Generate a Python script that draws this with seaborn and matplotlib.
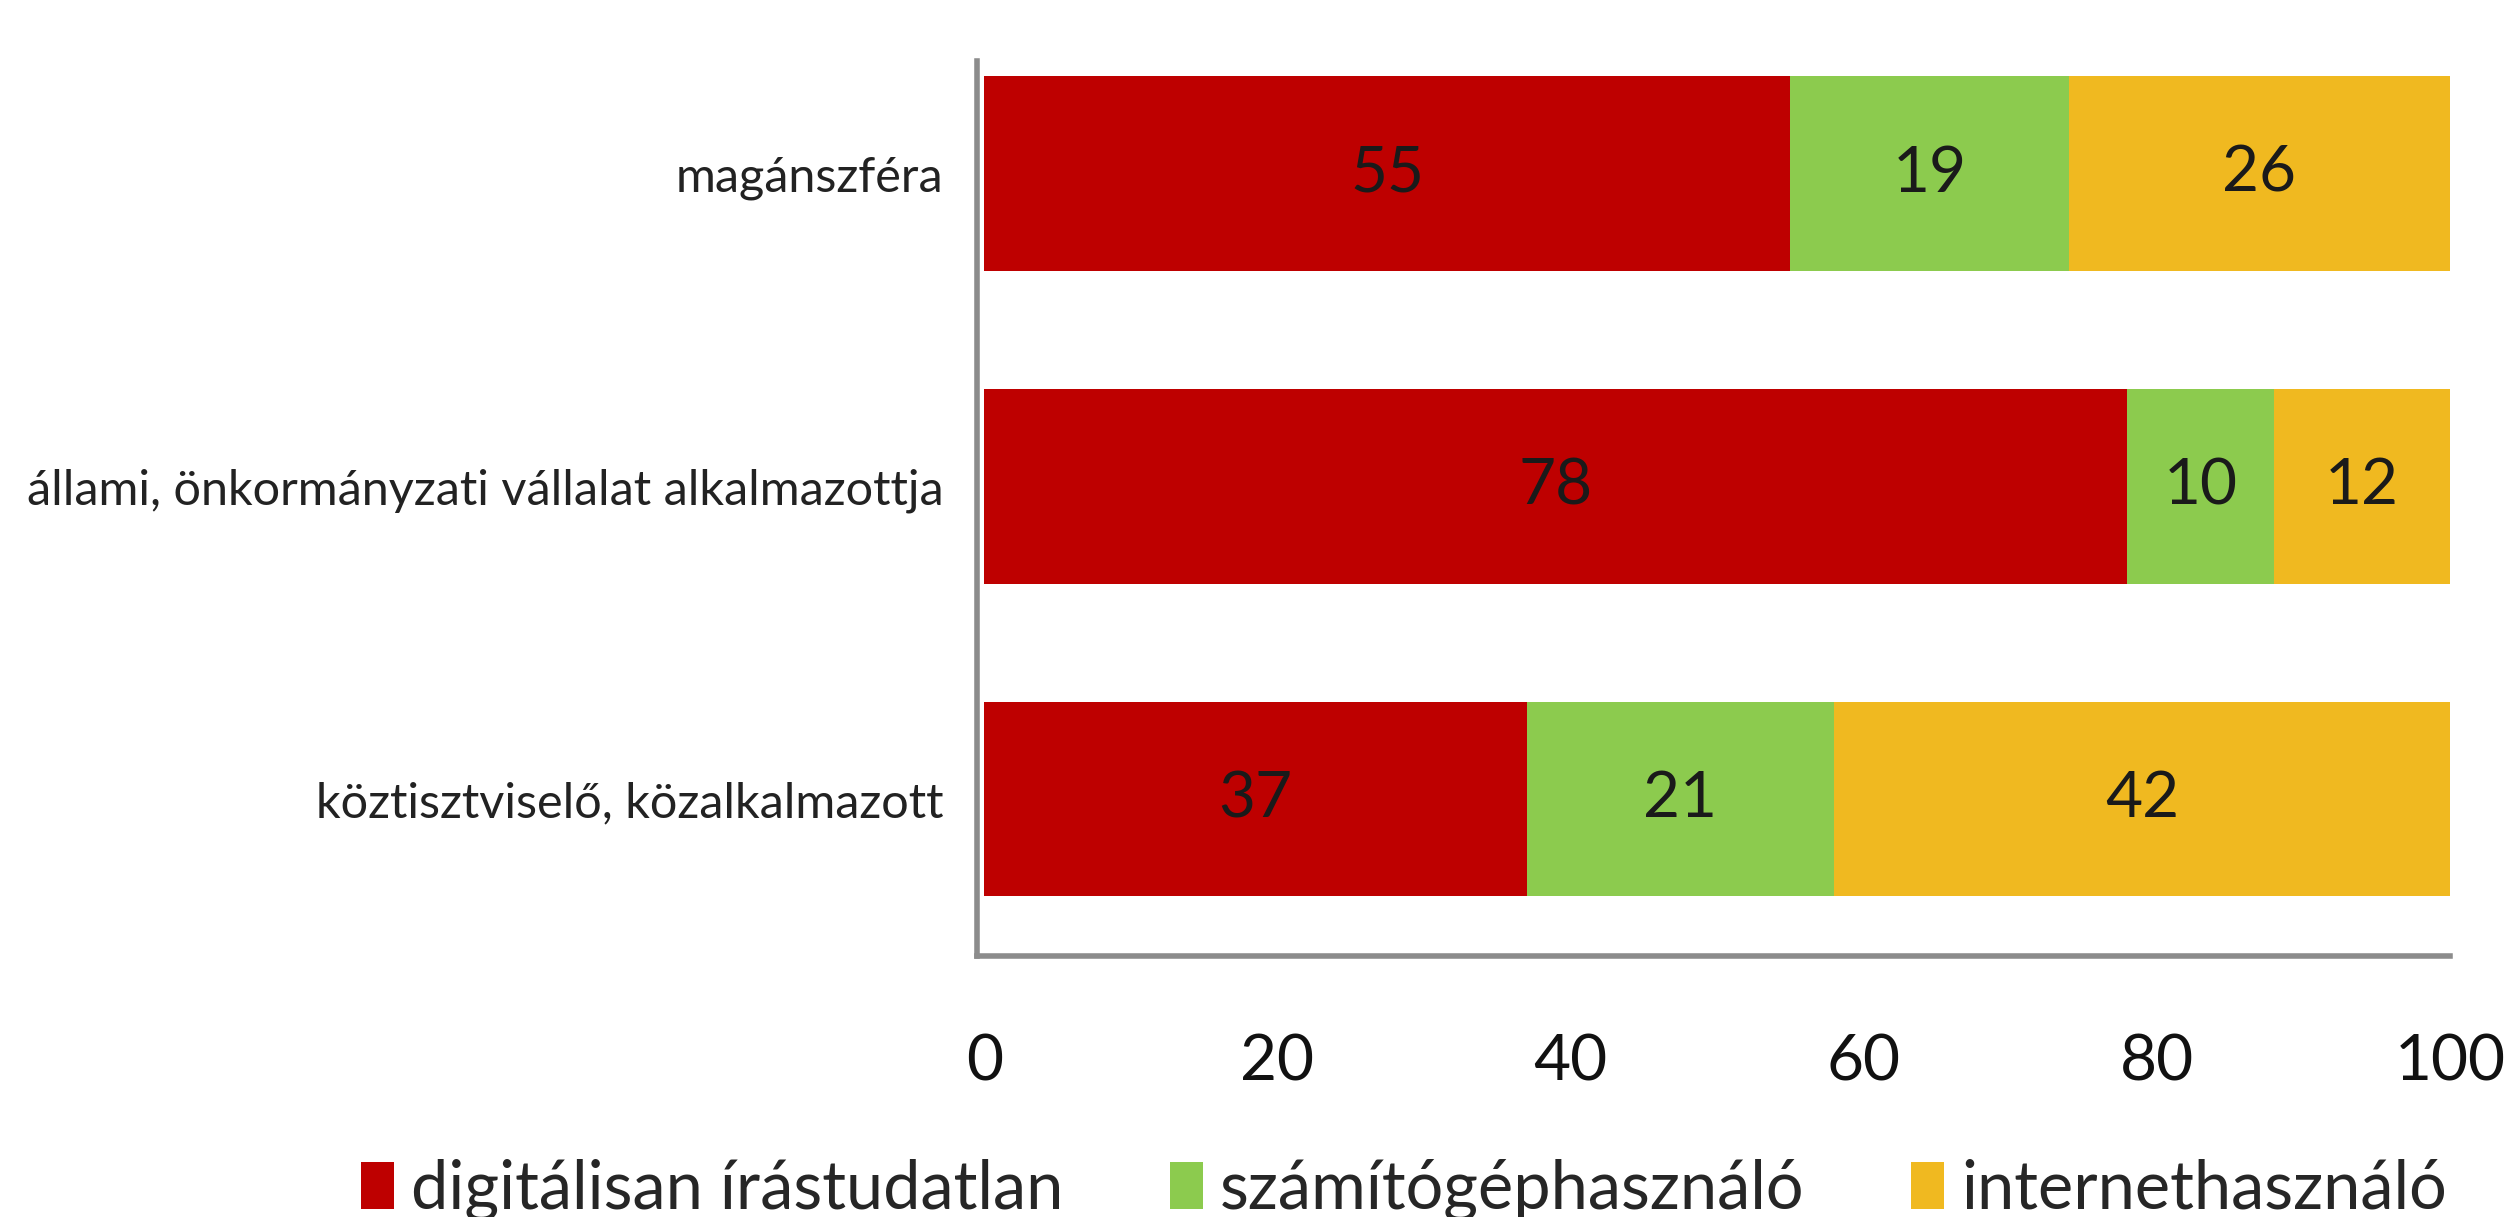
import numpy as np
import pandas as pd
import matplotlib.pyplot as plt
import seaborn as sns
from matplotlib.patches import Patch

categories = ["magánszféra", "állami, önkormányzati vállalat alkalmazottja", "köztisztviselő, közalkalmazott"]
series_names = ["digitálisan írástudatlan", "számítógéphasználó", "internethasználó"]
digital_illiterate = [55, 78, 37]
computer_users = [19, 10, 21]
internet_users = [26, 12, 42]
xticks = [0, 20, 40, 60, 80, 100]
colors = ["#BE0000", "#8CCB4E", "#F0B920"]

sns.set_theme(style="white")
plt.rcParams['font.family'] = ['Lato', 'DejaVu Sans']

series = [digital_illiterate, computer_users, internet_users]
df = pd.DataFrame({"Kategória": categories})
lefts = np.zeros(len(categories))
for name, vals in zip(series_names, series):
    df[name + "_left"] = lefts.copy()
    lefts = lefts + np.array(vals)
    df[name + "_cum"] = lefts.copy()

fig = plt.figure(figsize=(25.07, 12.17), dpi=100)
ax = fig.add_axes([0.3897, 0.2145, 0.5875, 0.7355])

# draw cumulative bars from the longest to the shortest to get a stacked look
for name, col in reversed(list(zip(series_names, colors))):
    sns.barplot(data=df, x=name + "_cum", y="Kategória", color=col, orient="h",
                width=0.62, ax=ax, saturation=1, edgecolor="none")

for name, vals in zip(series_names, series):
    for i, v in enumerate(vals):
        ax.text(df[name + "_left"].iloc[i] + v / 2, i, str(v), ha="center", va="center",
                fontsize=46, color="#1a1a1a")

ax.set_xlim(-0.5, 100)
ax.set_ylim(2.5, -0.36)
ax.set_xticks(xticks)
ax.set_xticklabels([str(t) for t in xticks], fontsize=46, color="#111111")
ax.tick_params(axis="x", length=0, pad=56)
ax.tick_params(axis="y", length=0, pad=24, labelsize=35, labelcolor="#222222")
ax.set_xlabel("")
ax.set_ylabel("")
for s in ["top", "right"]:
    ax.spines[s].set_visible(False)
for s in ["left", "bottom"]:
    ax.spines[s].set_color("#8c8c8c")
    ax.spines[s].set_linewidth(4)

handles = [Patch(facecolor=c, edgecolor="none") for c in colors]
fig.legend(handles, series_names, loc="center", bbox_to_anchor=(0.56, 0.022), ncol=3,
           frameon=False, fontsize=48, handlelength=0.5, handleheight=0.7,
           handletextpad=0.25, columnspacing=1.6, borderaxespad=0, borderpad=0)

fig.savefig("out.png", dpi=100)
